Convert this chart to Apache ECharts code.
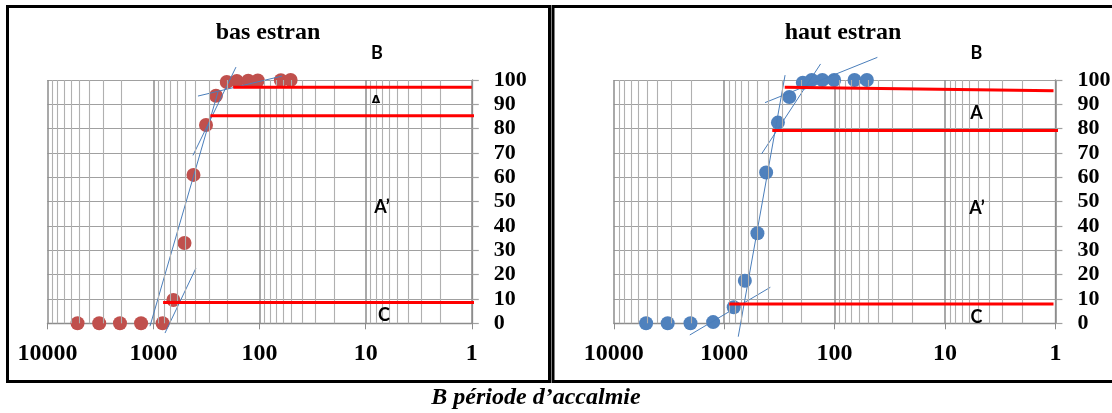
<!DOCTYPE html>
<html><head><meta charset="utf-8">
<script src="https://cdn.jsdelivr.net/npm/echarts@6/dist/echarts.min.js"></script>
<style>html,body{margin:0;padding:0;background:#fff;overflow:hidden}#c{width:1112px;height:413px}</style>
</head><body><div id="c"></div>
<script>
// ---- data ----
const xTickLabels = [10000, 1000, 100, 10, 1];
const yTickLabels = [0, 10, 20, 30, 40, 50, 60, 70, 80, 90, 100];

// bas estran : grain size (µm) vs cumulative %
const basSizes = [5200, 3250, 2070, 1310, 820, 650, 510, 420, 320, 258, 204, 164, 128, 104, 63, 51];
const basPct   = [0, 0, 0, 0, 0, 9.6, 33, 61, 81.5, 93.5, 99.2, 99.6, 99.7, 99.8, 99.9, 100];
// haut estran
const hautSizes = [5100, 3250, 2020, 1260, 820, 650, 500, 417, 326, 257, 194, 161, 129, 101, 66, 51];
const hautPct   = [0, 0, 0, 0.5, 6.6, 17.5, 37, 62, 82.5, 93, 98.9, 100, 100, 100, 100, 100];

// blue tangent segments [size, %]
const basTan1 = [[1079, -1.2], [247, 95]];
const basTan2 = [[425, 69], [167, 105.3]];
const basTan3 = [[381, 93.4], [61.5, 101.6]];
const basTan4 = [[779, -4], [398, 22.7]];
const hautTan1 = [[746, -5.5], [281, 102]];
const hautTan2 = [[459, 69.6], [134, 106.6]];
const hautTan3 = [[427, 90.7], [41, 109.3]];
const hautTan4 = [[2049, -4.8], [382, 14.8]];

// red limit lines [size, %]
const basRed1 = [[177, 97], [1, 97]];
const basRed2 = [[291, 85.3], [0.86, 85.3]];
const basRed3 = [[812, 8.6], [0.8, 8.6]];
const hautRed1 = [[283, 97], [1.04, 95.6]];
const hautRed2 = [[367, 79.2], [0.86, 79.2]];
const hautRed3 = [[901, 7.9], [1.04, 7.9]];

// minor log grid values
const minorGrid = [];
[1, 10, 100, 1000].forEach(d => { for (let k = 2; k <= 9; k++) minorGrid.push(k * d); });

// ---- styles ----
const SERIF = '"Liberation Serif","Times New Roman",serif';
const SANS = 'Lato,"Liberation Sans",Arial,sans-serif';
const RED_DOT = '#C0504D', BLUE_DOT = '#4F81BD', TAN = '#4A7EBB', RED = '#FF0000';

function zip(a, b) { return a.map((v, i) => [v, b[i]]); }

function xAxisFor(idx) {
  return {
    type: 'log', logBase: 10, gridIndex: idx, min: 1, max: 10000, inverse: true,
    axisLine: { show: true, lineStyle: { color: '#8C8C8C', width: 1.3 } },
    axisTick: { show: true, length: 6, lineStyle: { color: '#8C8C8C' } },
    axisLabel: { show: true, margin: 18, color: '#000', fontFamily: SERIF, fontWeight: 'bold', fontSize: 24,
      showMinLabel: true, showMaxLabel: true, hideOverlap: false,
      formatter: v => { const r = Math.round(v); return xTickLabels.indexOf(r) >= 0 ? String(r) : ''; } },
    splitLine: { show: true, lineStyle: { color: '#8C8C8C', width: 1.5 } },
    minorTick: { show: false }, minorSplitLine: { show: false }
  };
}
function yAxisFor(idx) {
  return {
    type: 'value', gridIndex: idx, min: 0, max: 100, interval: 10, position: 'right',
    axisLine: { show: true, lineStyle: { color: '#8C8C8C', width: 1.3 } },
    axisTick: { show: true, length: 7, lineStyle: { color: '#A0A0A0', width: 1.2 } },
    axisLabel: { show: true, margin: 22, align: 'left', color: '#000', fontFamily: SERIF, fontWeight: 'bold', fontSize: 22,
      formatter: v => yTickLabels.indexOf(v) >= 0 ? String(v) : '' },
    splitLine: { show: true, lineStyle: { color: '#A0A0A0', width: 1.2 } }
  };
}
function gridSeries(idx) {
  return {
    type: 'line', xAxisIndex: idx, yAxisIndex: idx, data: [], z: 1, silent: true,
    markLine: { silent: true, symbol: 'none', animation: false, label: { show: false },
      lineStyle: { color: '#B0B0B0', width: 1.1, type: 'solid' },
      emphasis: { disabled: true },
      data: minorGrid.map(v => ({ xAxis: v })) }
  };
}
function seg(idx, data, color, width, z) {
  return { type: 'line', xAxisIndex: idx, yAxisIndex: idx, data: data, clip: false, z: z,
    symbol: 'none', silent: true, animation: false,
    lineStyle: { color: color, width: width } };
}
function dots(idx, data, color) {
  return { type: 'scatter', xAxisIndex: idx, yAxisIndex: idx, data: data, clip: false, z: 3,
    symbol: 'circle', symbolSize: 14, animation: false,
    itemStyle: { color: color, opacity: 1 } };
}

function txt(t, x, y, font) {
  return { type: 'text', x: x, y: y, z: 100, silent: true,
    style: { text: t, font: font, fill: '#000', align: 'center', verticalAlign: 'middle',
      textAlign: 'center', textVerticalAlign: 'middle' } };
}

const chart = echarts.init(document.getElementById('c'), null, { renderer: 'canvas' });
chart.setOption({
  backgroundColor: '#fff',
  animation: false,
  grid: [
    { left: 47.4, top: 80, width: 424.4, height: 243.3, containLabel: false, outerBoundsMode: 'none' },
    { left: 613.8, top: 80, width: 441.6, height: 243.3, containLabel: false, outerBoundsMode: 'none' }
  ],
  xAxis: [xAxisFor(0), xAxisFor(1)],
  yAxis: [yAxisFor(0), yAxisFor(1)],
  series: [
    gridSeries(0), gridSeries(1),
    dots(0, zip(basSizes, basPct), RED_DOT),
    dots(1, zip(hautSizes, hautPct), BLUE_DOT),
    seg(0, basTan1, TAN, 1, 4), seg(0, basTan2, TAN, 1, 4), seg(0, basTan3, TAN, 1, 4), seg(0, basTan4, TAN, 1, 4),
    seg(1, hautTan1, TAN, 1, 4), seg(1, hautTan2, TAN, 1, 4), seg(1, hautTan3, TAN, 1, 4), seg(1, hautTan4, TAN, 1, 4),
    seg(0, basRed1, RED, 3, 5), seg(0, basRed2, RED, 3, 5), seg(0, basRed3, RED, 3, 5),
    seg(1, hautRed1, RED, 3, 5), seg(1, hautRed2, RED, 3, 5), seg(1, hautRed3, RED, 3, 5)
  ],
  graphic: [
    { type: 'rect', z: 50, silent: true, shape: { x: 7.5, y: 6.5, width: 542, height: 375 },
      style: { fill: 'none', stroke: '#000', lineWidth: 3 } },
    { type: 'rect', z: 50, silent: true, shape: { x: 553, y: 6.5, width: 570, height: 375 },
      style: { fill: 'none', stroke: '#000', lineWidth: 3 } },
    txt('bas estran', 268, 33, 'bold 24px ' + SERIF),
    txt('B', 377, 53, 'bold 18px ' + SANS),
    txt('Δ', 376, 100, 'bold 11px "DejaVu Sans",sans-serif'),
    txt('A’', 382, 207, 'bold 18px ' + SANS),
    txt('C', 384, 315, 'bold 18px ' + SANS),
    txt('haut estran', 843, 33, 'bold 24px ' + SERIF),
    txt('B', 976.5, 53, 'bold 18px ' + SANS),
    txt('A', 976.5, 113, 'bold 18px ' + SANS),
    txt('A’', 977, 208, 'bold 18px ' + SANS),
    txt('C', 976.5, 317, 'bold 18px ' + SANS),
    txt('B période d’accalmie', 536, 398, 'italic bold 24px ' + SERIF)
  ]
});
</script></body></html>
